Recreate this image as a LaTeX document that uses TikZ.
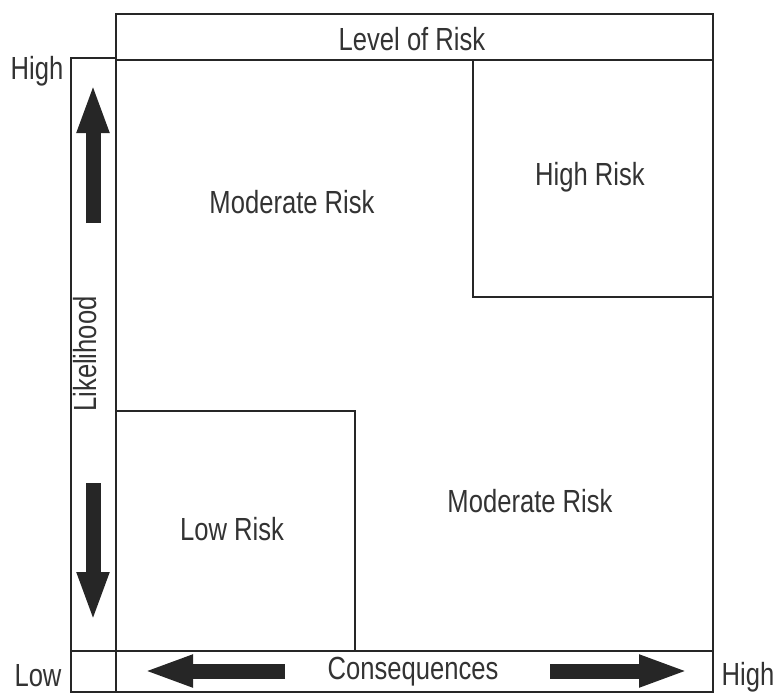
\documentclass[tikz,border=0pt]{standalone}
\usepackage{fontspec}
\setmainfont{Liberation Sans}[FakeStretch=0.8]
\usetikzlibrary{arrows.meta}
\usetikzlibrary{positioning}
\tikzset{
  frame/.style={draw=black!85, line width=1.8pt},
  lbl/.style={inner sep=0, anchor=base, text=black!80,
    font=\fontsize{32}{36}\selectfont},
  bigarrow/.style={line width=15pt, draw=black!85,
    -{Triangle[width=29pt,length=50pt]}}
}
\begin{document}
\begin{tikzpicture}[x=1pt,y=-1pt]
  \useasboundingbox (0,0) rectangle (777,694);
  % frames
  \draw[frame] (116,14) rectangle (713,60);
  \draw[frame] (71,58) rectangle (116,692);
  \draw[frame] (116,60) rectangle (713,651);
  \draw[frame] (71,651) -- (116,651);
  \draw[frame] (116,651) rectangle (713,692);
  \draw[frame] (473,60) rectangle (713,297);
  \draw[frame] (116,411) rectangle (355,651);
  % labels
  \node[lbl] (title) at (412,50) {Level of Risk};
  \node[lbl] (modtop) at (292,213) {Moderate Risk};
  \node[lbl] (high) at (590,185) {High Risk};
  \node[lbl] (low) at (232,540) {Low Risk};
  \node[lbl] (modbot) at (530,512) {Moderate Risk};
  \node[lbl] (conseq) at (413,679) {Consequences};
  \node[lbl, rotate=90] (likeli) at (96,354) {Likelihood};
  \node[lbl] (yhigh) at (37,79) {High};
  \node[lbl] (ylow) at (38,686) {Low};
  \node[lbl] (xhigh) at (748,685) {High};
  % arrows
  \coordinate (upS) at (93,223);
  \coordinate (upE) at (93,83);
  \coordinate (dnS) at (93,483);
  \coordinate (dnE) at (93,622);
  \coordinate (ltS) at (285,671);
  \coordinate (ltE) at (143,671);
  \coordinate (rtS) at (550,671);
  \coordinate (rtE) at (689,671);
  \draw[bigarrow] (upS) -- (upE);
  \draw[bigarrow] (dnS) -- (dnE);
  \draw[bigarrow] (ltS) -- (ltE);
  \draw[bigarrow] (rtS) -- (rtE);
\end{tikzpicture}
\end{document}
